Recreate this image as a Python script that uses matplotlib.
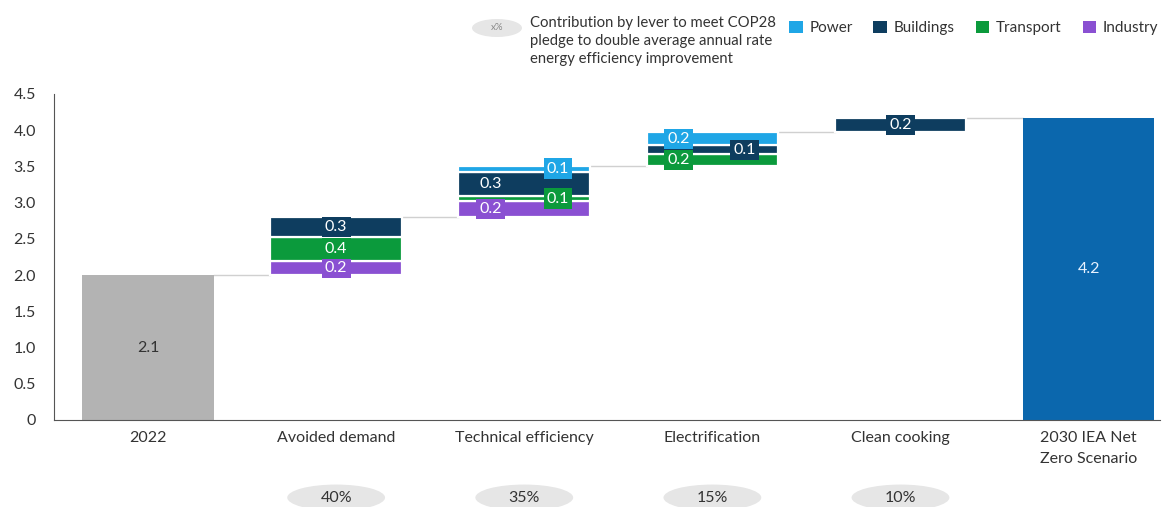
import matplotlib
matplotlib.use('Agg')
import matplotlib.pyplot as plt
from matplotlib.patches import Ellipse, Patch
from matplotlib.ticker import FuncFormatter
import matplotlib.transforms as mtransforms
import numpy as np

plt.rcParams['font.family'] = ['Lato', 'DejaVu Sans']

# data
categories = ['2022', 'Avoided demand', 'Technical efficiency', 'Electrification',
              'Clean cooking', '2030 IEA Net\nZero Scenario']
levers = ['Avoided demand', 'Technical efficiency', 'Electrification', 'Clean cooking']
shares = ['40%', '35%', '15%', '10%']

start_val = 2.0
start_lab = '2.1'
end_val = 4.17
end_lab = '4.2'

industry = [0.20, 0.22, 0.0, 0.0]
transport = [0.33, 0.07, 0.16, 0.0]
buildings = [0.27, 0.34, 0.12, 0.20]
power = [0.0, 0.08, 0.18, 0.0]

industry_lab = ['0.2', '0.2', '', '']
transport_lab = ['0.4', '0.1', '0.2', '']
buildings_lab = ['0.3', '0.3', '0.1', '0.2']
power_lab = ['', '0.1', '0.2', '']

series_names = ['Industry', 'Transport', 'Buildings', 'Power']
series_vals = [industry, transport, buildings, power]
series_labs = [industry_lab, transport_lab, buildings_lab, power_lab]
colors = {'Power': '#1fa6e6', 'Buildings': '#0e3d5f',
          'Transport': '#0b9a3c', 'Industry': '#8a50d2'}

# label x offsets (style), per lever per series
offs = {'Industry': [0, -0.18, 0, 0], 'Transport': [0, 0.18, -0.18, 0],
        'Buildings': [0, -0.18, 0.17, 0], 'Power': [0, 0.18, -0.18, 0]}

fig = plt.figure(figsize=(11.73, 5.07), dpi=100)
ax = fig.add_axes([0.046, 0.1716, 0.943, 0.643])

w = 0.7
x = np.arange(len(categories))

ax.bar(x[0], start_val, w, color='#b3b3b3', zorder=2)
ax.text(x[0], start_val/2, start_lab, ha='center', va='center', fontsize=11.5, color='#333333')
ax.bar(x[-1], end_val, w, color='#0b67ad', zorder=2)
ax.text(x[-1], end_val/2, end_lab, ha='center', va='center', fontsize=11.5, color='#e8f2ff')

base = start_val
tops = [start_val]
for i, lev in enumerate(levers):
    xi = x[i+1]
    b = base
    for name, vals, labs in zip(series_names, series_vals, series_labs):
        v = vals[i]
        if v <= 0:
            continue
        ax.bar(xi, v, w, bottom=b, color=colors[name], edgecolor='white', linewidth=1.6, zorder=2)
        ax.text(xi + offs[name][i], b + v/2, labs[i], ha='center', va='center',
                fontsize=11.5, color='white', zorder=4,
                bbox=dict(boxstyle='square,pad=0.2', fc=colors[name], ec='none'))
        b += v
    base = b
    tops.append(base)
tops.append(end_val)

# connector lines
for i in range(len(categories) - 1):
    ax.plot([x[i] + w/2, x[i+1] - w/2], [tops[i], tops[i]], color='#d0d0d0', lw=1, zorder=1)

ax.set_xlim(-0.5, 5.38)
ax.set_ylim(0, 4.5)
ax.set_yticks(np.arange(0, 4.51, 0.5))
ax.yaxis.set_major_formatter(FuncFormatter(lambda v, p: '0' if v == 0 else '%.1f' % v))
ax.set_xticks(x)
ax.set_xticklabels(categories, fontsize=11.5, color='#333333', linespacing=1.6)
ax.tick_params(axis='both', length=0, labelsize=11.5, colors='#333333')
ax.tick_params(axis='y', pad=13)
ax.tick_params(axis='x', pad=8)
for s in ['top', 'right']:
    ax.spines[s].set_visible(False)
ax.spines['left'].set_color('#555555')
ax.spines['bottom'].set_color('#555555')

# share pills under levers
trans = mtransforms.blended_transform_factory(ax.transData, ax.transAxes)
for i, s in enumerate(shares):
    ax.add_patch(Ellipse((x[i+1], -0.238), 0.52, 0.08, transform=trans,
                         fc='#e6e6e6', ec='none', clip_on=False))
    ax.text(x[i+1], -0.238, s, transform=trans, ha='center', va='center',
            fontsize=11.5, color='#333333')

# header
fig.patches.append(Ellipse((497/1173, 1-28/507), 50/1173, 18/507, transform=fig.transFigure,
                           fc='#e6e6e6', ec='none'))
fig.text(497/1173, 1-28/507, 'x%', ha='center', va='center', fontsize=7, color='#888888')
fig.text(530/1173, 1-16/507,
         'Contribution by lever to meet COP28\npledge to double average annual rate\nenergy efficiency improvement',
         ha='left', va='top', fontsize=10.7, color='#333333', linespacing=1.35)

handles = [Patch(fc=colors[n], ec='none') for n in ['Power', 'Buildings', 'Transport', 'Industry']]
fig.legend(handles, ['Power', 'Buildings', 'Transport', 'Industry'], ncol=4,
           loc='center left', bbox_to_anchor=(775/1173, 1-28/507), frameon=False,
           fontsize=11, handlelength=0.9, handleheight=0.9, handletextpad=0.45,
           columnspacing=1.35, labelcolor='#333333')

fig.savefig('out.png', dpi=100, facecolor='white')
